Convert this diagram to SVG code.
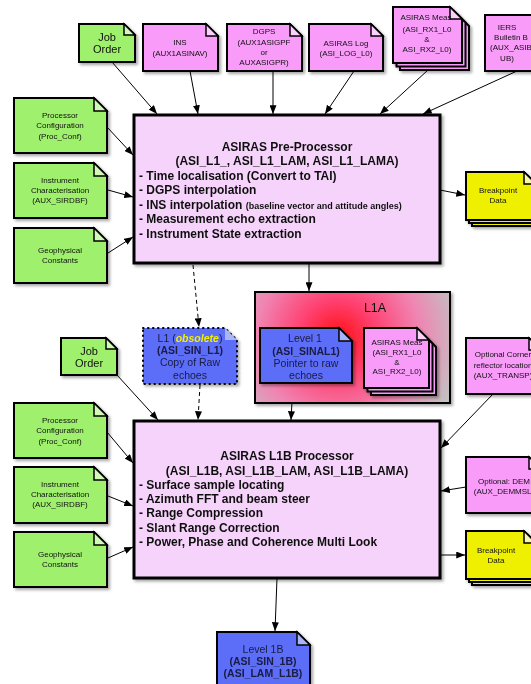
<svg xmlns="http://www.w3.org/2000/svg" width="531" height="684" viewBox="0 0 531 684">
<defs>
<style>
.g{fill:#9ff06c;stroke:#000;stroke-width:2}
.gf{fill:#d2f8b8;stroke:#000;stroke-width:1.5}
.p{fill:#f99bf9;stroke:#000;stroke-width:2}
.pf{fill:#fcd0fc;stroke:#000;stroke-width:1.5}
.y{fill:#eef000;stroke:#000;stroke-width:2}
.yf{fill:#f8f8a8;stroke:#000;stroke-width:1.5}
.b{fill:#5c6ef8;stroke:#000;stroke-width:2}
.bf{fill:#aab4fb;stroke:#000;stroke-width:1.5}
.box{fill:#f6d3fb;stroke:#000;stroke-width:3}
text{font-family:"Liberation Sans",Arial,sans-serif;fill:#111;text-anchor:middle}
.s{font-size:8px}
.m{font-size:10.5px}
.j{font-size:11px}
.t{font-size:12px;font-weight:bold}
.bl{text-anchor:start}
.bt{fill:#1a1a44}
.c{stroke:#000;stroke-width:1;fill:none;marker-end:url(#ah)}
.d{stroke:#000;stroke-width:1;fill:none;stroke-dasharray:4 3;marker-end:url(#ah)}
.sh{filter:url(#shadow)}
</style>
<marker id="ah" viewBox="0 0 10 8" refX="10" refY="4" markerWidth="9" markerHeight="7" markerUnits="userSpaceOnUse" orient="auto">
<path d="M0,0 L10,4 L0,8 Z" fill="#000"/>
</marker>
<filter id="shadow" x="-10%" y="-10%" width="130%" height="130%">
<feDropShadow dx="2" dy="2" stdDeviation="1.5" flood-color="#000" flood-opacity="0.35"/>
</filter>
<radialGradient id="l1a" gradientUnits="userSpaceOnUse" cx="338" cy="338" r="125">
<stop offset="0" stop-color="#ff1010"/>
<stop offset="0.3" stop-color="#ff4070"/>
<stop offset="0.65" stop-color="#f084b2"/>
<stop offset="1" stop-color="#c2c2c2"/>
</radialGradient>
</defs>
<rect width="531" height="684" fill="#fff"/>

<g id="connectors">
<line class="c" x1="112" y1="62" x2="157" y2="114"/>
<line class="c" x1="190" y1="71" x2="198" y2="114"/>
<line class="c" x1="273" y1="71" x2="273" y2="114"/>
<line class="c" x1="354" y1="71" x2="325" y2="114"/>
<line class="c" x1="428" y1="70" x2="380" y2="114"/>
<line class="c" x1="517" y1="71" x2="423" y2="114"/>
<line class="c" x1="107" y1="127" x2="133" y2="155"/>
<line class="c" x1="108" y1="190" x2="133" y2="197"/>
<line class="c" x1="108" y1="253" x2="133" y2="237"/>
<line class="c" x1="440" y1="190" x2="465" y2="195"/>
<line class="c" x1="309" y1="263" x2="309" y2="291"/>
<line class="d" x1="193" y1="265" x2="199" y2="327"/>
<line class="d" x1="200" y1="385" x2="198" y2="420"/>
<line class="c" x1="117" y1="375" x2="158" y2="420"/>
<line class="c" x1="293" y1="383" x2="291" y2="420"/>
<line class="c" x1="107" y1="432" x2="133" y2="463"/>
<line class="c" x1="108" y1="496" x2="133" y2="506"/>
<line class="c" x1="108" y1="558" x2="133" y2="547"/>
<line class="c" x1="493" y1="394" x2="441" y2="448"/>
<line class="c" x1="466" y1="487" x2="441" y2="491"/>
<line class="c" x1="440" y1="555" x2="465" y2="555"/>
<line class="c" x1="277" y1="578" x2="275" y2="631"/>
</g>

<g id="job-order-1" class="sh">
<path class="g" d="M79 24H124L135 35V62H79Z"/><path class="gf" d="M124 24V35H135Z"/>
<text class="j" x="107" y="41">Job</text><text class="j" x="107" y="53">Order</text>
</g>
<g id="ins" class="sh">
<path class="p" d="M143 24H206L218 36V71H143Z"/><path class="pf" d="M206 24V36H218Z"/>
<text class="s" x="180" y="45">INS</text><text class="s" x="180" y="56">(AUX1ASINAV)</text>
</g>
<g id="dgps" class="sh">
<path class="p" d="M227 24H290L302 36V71H227Z"/><path class="pf" d="M290 24V36H302Z"/>
<text class="s" x="264" y="34">DGPS</text><text class="s" x="264" y="45">(AUX1ASIGPF</text>
<text class="s" x="264" y="55">or</text><text class="s" x="264" y="65">AUXASIGPR)</text>
</g>
<g id="asiras-log" class="sh">
<path class="p" d="M309 24H371L383 36V71H309Z"/><path class="pf" d="M371 24V36H383Z"/>
<text class="s" x="346" y="46">ASIRAS Log</text><text class="s" x="346" y="56">(ASI_LOG_L0)</text>
</g>
<g id="asiras-meas-top" class="sh">
<g transform="translate(7,7)"><path class="p" d="M393 7H450L462 19V63H393Z"/></g>
<g transform="translate(3.5,3.5)"><path class="p" d="M393 7H450L462 19V63H393Z"/></g>
<path class="p" d="M393 7H450L462 19V63H393Z"/><path class="pf" d="M450 7V19H462Z"/>
<text class="s" x="426" y="20">ASIRAS Meas</text><text class="s" x="427" y="32">(ASI_RX1_L0</text>
<text class="s" x="427" y="42">&amp;</text><text class="s" x="427" y="52">ASI_RX2_L0)</text>
</g>
<g id="iers" class="sh">
<path class="p" d="M485 15H533L545 27V71H485Z"/><path class="pf" d="M533 15V27H545Z"/>
<text class="s" x="507" y="30">IERS</text><text class="s" x="511" y="40">Bulletin B</text>
<text class="s" x="511" y="50">(AUX_ASIB</text><text class="s" x="507" y="61">UB)</text>
</g>

<g id="proc-conf-1" class="sh">
<path class="g" d="M14 98H94L107 111V153H14Z"/><path class="gf" d="M94 98V111H107Z"/>
<text class="s" x="60" y="118">Processor</text><text class="s" x="60" y="128">Configuration</text><text class="s" x="60" y="139">(Proc_Conf)</text>
</g>
<g id="instr-char-1" class="sh">
<path class="g" d="M14 163H94L107 176V218H14Z"/><path class="gf" d="M94 163V176H107Z"/>
<text class="s" x="60" y="183">Instrument</text><text class="s" x="60" y="193">Characterisation</text><text class="s" x="60" y="203">(AUX_SIRDBF)</text>
</g>
<g id="geo-const-1" class="sh">
<path class="g" d="M14 228H94L107 241V283H14Z"/><path class="gf" d="M94 228V241H107Z"/>
<text class="s" x="60" y="253">Geophysical</text><text class="s" x="60" y="263">Constants</text>
</g>

<g id="pre-processor" class="sh">
<rect class="box" x="134" y="115" width="306" height="148"/>
<text class="t" x="287" y="151">ASIRAS Pre-Processor</text>
<text class="t" x="287" y="165">(ASI_L1_, ASI_L1_LAM, ASI_L1_LAMA)</text>
<text class="t bl" x="139" y="179.5">- Time localisation (Convert to TAI)</text>
<text class="t bl" x="139" y="193.5">- DGPS interpolation</text>
<text class="t bl" x="139" y="208.5">- INS interpolation <tspan font-size="9">(baseline vector and attitude angles)</tspan></text>
<text class="t bl" x="139" y="222.5">- Measurement echo extraction</text>
<text class="t bl" x="139" y="237.5">- Instrument State extraction</text>
</g>

<g id="breakpoint-1" class="sh">
<g transform="translate(6,6)"><path class="y" d="M466 172H524L536 184V220H466Z"/></g>
<g transform="translate(3,3)"><path class="y" d="M466 172H524L536 184V220H466Z"/></g>
<path class="y" d="M466 172H524L536 184V220H466Z"/><path class="yf" d="M524 172V184H536Z"/>
<text class="s" x="498" y="193">Breakpoint</text><text class="s" x="498" y="203">Data</text>
</g>

<g id="l1-obsolete" class="sh">
<path d="M143 328H225L237 340V384H143Z" fill="#5c6ef8" stroke="#000" stroke-width="2" stroke-dasharray="0.5 4.5" stroke-linecap="round"/>
<path d="M225 328V340H237Z" fill="#aab4fb"/>
<text class="m bt" x="190" y="342">L1 (<tspan fill="#f0f000" font-weight="bold" font-style="italic">obsolete</tspan>)</text>
<text class="m bt" x="190" y="354" font-weight="bold">(ASI_SIN_L1)</text>
<text class="m bt" x="190" y="366">Copy of Raw</text>
<text class="m bt" x="190" y="379">echoes</text>
</g>

<g id="l1a" class="sh">
<rect x="255" y="292" width="195" height="111" fill="url(#l1a)" stroke="#000" stroke-width="2"/>
<text x="375" y="312" font-size="12.5">L1A</text>
</g>
<g id="level-1" class="sh">
<path class="b" d="M260 328H339L352 341V383H260Z"/><path class="bf" d="M339 328V341H352Z"/>
<text class="m bt" x="305" y="342">Level 1</text>
<text class="m bt" x="306" y="355" font-weight="bold">(ASI_SINAL1)</text>
<text class="m bt" x="306" y="367">Pointer to raw</text>
<text class="m bt" x="306" y="379">echoes</text>
</g>
<g id="asiras-meas-l1a" class="sh">
<g transform="translate(7,7)"><path class="p" d="M364 328H417L429 340V388H364Z"/></g>
<g transform="translate(3.5,3.5)"><path class="p" d="M364 328H417L429 340V388H364Z"/></g>
<path class="p" d="M364 328H417L429 340V388H364Z"/><path class="pf" d="M417 328V340H429Z"/>
<text class="s" x="397" y="345">ASIRAS Meas</text><text class="s" x="397" y="355">(ASI_RX1_L0</text>
<text class="s" x="397" y="365">&amp;</text><text class="s" x="397" y="374">ASI_RX2_L0)</text>
</g>

<g id="corner-reflector" class="sh">
<path class="p" d="M466 338H529L541 350V394H466Z"/><path class="pf" d="M529 338V350H541Z"/>
<text class="s" x="503" y="357">Optional Corner</text><text class="s" x="503" y="368">reflector location</text><text class="s" x="503" y="378">(AUX_TRANSP)</text>
</g>

<g id="job-order-2" class="sh">
<path class="g" d="M61 338H106L117 349V375H61Z"/><path class="gf" d="M106 338V349H117Z"/>
<text class="j" x="89" y="355">Job</text><text class="j" x="89" y="367">Order</text>
</g>

<g id="proc-conf-2" class="sh">
<path class="g" d="M14 403H94L107 416V458H14Z"/><path class="gf" d="M94 403V416H107Z"/>
<text class="s" x="60" y="423">Processor</text><text class="s" x="60" y="433">Configuration</text><text class="s" x="60" y="444">(Proc_Conf)</text>
</g>
<g id="instr-char-2" class="sh">
<path class="g" d="M14 467H94L107 480V523H14Z"/><path class="gf" d="M94 467V480H107Z"/>
<text class="s" x="60" y="487">Instrument</text><text class="s" x="60" y="497">Characterisation</text><text class="s" x="60" y="507">(AUX_SIRDBF)</text>
</g>
<g id="geo-const-2" class="sh">
<path class="g" d="M14 532H94L107 545V587H14Z"/><path class="gf" d="M94 532V545H107Z"/>
<text class="s" x="60" y="557">Geophysical</text><text class="s" x="60" y="567">Constants</text>
</g>

<g id="l1b-processor" class="sh">
<rect class="box" x="134" y="421" width="306" height="157"/>
<text class="t" x="287" y="460">ASIRAS L1B Processor</text>
<text class="t" x="287" y="474.5">(ASI_L1B, ASI_L1B_LAM, ASI_L1B_LAMA)</text>
<text class="t bl" x="139" y="488.5">- Surface sample locating</text>
<text class="t bl" x="139" y="502.5">- Azimuth FFT and beam steer</text>
<text class="t bl" x="139" y="517">- Range Compression</text>
<text class="t bl" x="139" y="531.5">- Slant Range Correction</text>
<text class="t bl" x="139" y="545.5">- Power, Phase and Coherence Multi Look</text>
</g>

<g id="dem" class="sh">
<path class="p" d="M466 457H529L541 469V513H466Z"/><path class="pf" d="M529 457V469H541Z"/>
<text class="s" x="504" y="484">Optional: DEM</text><text class="s" x="504" y="494">(AUX_DEMMSL)</text>
</g>

<g id="breakpoint-2" class="sh">
<g transform="translate(6,6)"><path class="y" d="M466 531H524L536 543V579H466Z"/></g>
<g transform="translate(3,3)"><path class="y" d="M466 531H524L536 543V579H466Z"/></g>
<path class="y" d="M466 531H524L536 543V579H466Z"/><path class="yf" d="M524 531V543H536Z"/>
<text class="s" x="496" y="553">Breakpoint</text><text class="s" x="496" y="563">Data</text>
</g>

<g id="level-1b" class="sh">
<path class="b" d="M217 632H297L310 645V692H217Z"/><path class="bf" d="M297 632V645H310Z"/>
<text class="m bt" x="263" y="653">Level 1B</text>
<text class="m bt" x="263" y="665" font-weight="bold">(ASI_SIN_1B)</text>
<text class="m bt" x="263" y="677" font-weight="bold">(ASI_LAM_L1B)</text>
</g>
</svg>
